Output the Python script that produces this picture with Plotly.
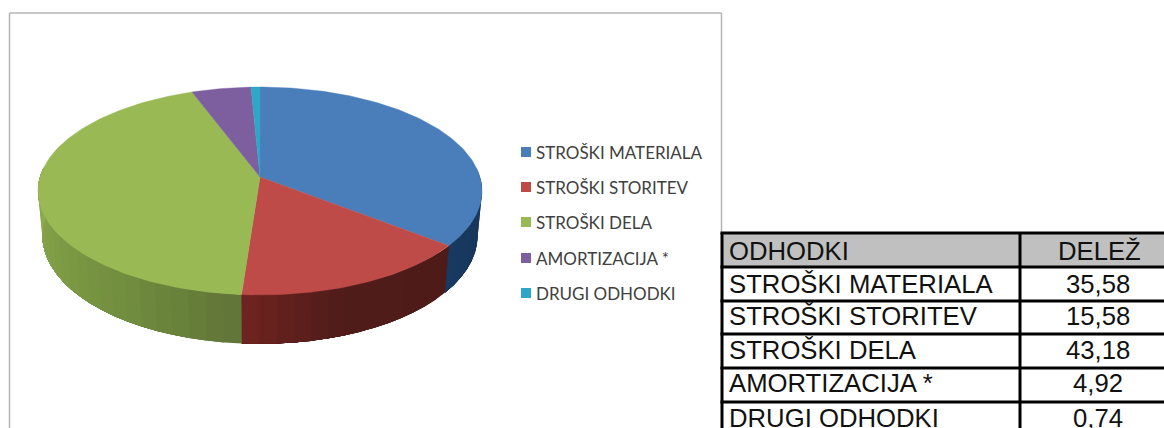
import math
import plotly.graph_objects as go

# ---- data ----
categories = ["STROŠKI MATERIALA", "STROŠKI STORITEV", "STROŠKI DELA", "AMORTIZACIJA *", "DRUGI ODHODKI"]
shares = [35.58, 15.58, 43.18, 4.92, 0.74]
table_header = ["ODHODKI", "DELEŽ"]
top_colors = ["#4a7ebb", "#be4b48", "#98b954", "#7d5fa0", "#2ea6c6"]

# side-wall shading, (screen fraction along the visible arc, rgb) per slice
wall_stops = {
    0: [(0.0, (22, 52, 90)), (1.0, (24, 58, 96))],
    1: [(0.0, (78, 27, 24)), (0.6, (80, 28, 25)), (1.0, (112, 36, 32))],
    2: [(0.0, (96, 116, 56)), (0.3, (112, 140, 62)), (0.7, (130, 160, 70)), (1.0, (142, 174, 82))],
}

# ---- geometry (pixel-based axes, perspective disc) ----
W, H = 1164, 428
CX, CY, A, B, K = 260.0, 177.0, 220.0, 102.1, 0.1346


def rim(theta):
    s, c = math.sin(theta), math.cos(theta)
    d = 1 + K * c
    return CX + A * s / d, CY - B * c / d


def rim_low(theta):
    u, v = rim(theta)
    return CX + 0.98 * (u - CX), v + 44 + 0.042 * (v - CY)


def lerp_color(stops, t):
    for (t0, c0), (t1, c1) in zip(stops, stops[1:]):
        if t <= t1:
            f = (t - t0) / (t1 - t0)
            return "rgb(%d,%d,%d)" % tuple(round(a + (b - a) * f) for a, b in zip(c0, c1))
    return "rgb(%d,%d,%d)" % stops[-1][1]


total = sum(shares)
edges = [0.0]
for v in shares:
    edges.append(edges[-1] + v / total * 2 * math.pi)

fig = go.Figure()

# side wall: each strip runs to the slice's far end and the next one paints over it, so no seams show
wall_start, wall_end = math.radians(85), math.radians(275)
for i in range(3):
    a0 = max(edges[i], wall_start)
    a1 = min(edges[i + 1], wall_end)
    n = max(2, int(math.degrees(a1 - a0) / 4))
    for j in range(n):
        ts = [a0 + (a1 - a0) * k / n for k in range(j, n + 1)]
        p = [rim(t) for t in ts] + [rim_low(t) for t in reversed(ts)]
        p.append(p[0])
        fig.add_trace(go.Scatter(
            x=[q[0] for q in p], y=[q[1] for q in p], mode="lines", fill="toself",
            fillcolor=lerp_color(wall_stops[i], (j + 0.5) / n), line=dict(width=0),
            hoverinfo="skip", showlegend=False,
        ))

# top face
for i, name in enumerate(categories):
    n = max(4, int(math.degrees(edges[i + 1] - edges[i])))
    pts = [(CX, CY)] + [rim(edges[i] + (edges[i + 1] - edges[i]) * j / n) for j in range(n + 1)] + [(CX, CY)]
    fig.add_trace(go.Scatter(
        x=[q[0] for q in pts], y=[q[1] for q in pts], mode="lines", fill="toself",
        fillcolor=top_colors[i], line=dict(color=top_colors[i], width=0.4),
        name=name, text=f"{shares[i]:.2f}".replace(".", ","), hoverinfo="name+text", showlegend=False,
    ))

shapes = []
annotations = []


def line(x0, y0, x1, y1, color, width):
    shapes.append(dict(type="line", x0=x0, y0=y0, x1=x1, y1=y1, line=dict(color=color, width=width)))


def label(x, y, text, anchor, size, color, family):
    annotations.append(dict(x=x, y=y, text=text, xanchor=anchor, yanchor="middle", showarrow=False,
                            font=dict(size=size, color=color, family=family), xref="x", yref="y"))


# chart frame
FRAME = "#b4b6b4"
line(9.5, 13, 9.5, H, FRAME, 1.5)
line(9.5, 13, 721.5, 13, FRAME, 1.5)
line(721.5, 13, 721.5, 233, FRAME, 1.5)

# legend
legend_y = [152, 187, 222, 258, 293]
for name, color, y in zip(categories, top_colors, legend_y):
    shapes.append(dict(type="rect", x0=521, x1=531, y0=y - 5, y1=y + 5, fillcolor=color, line=dict(width=0)))
    label(534, y, name, "left", 17, "#404040", "Lato")

# table
TX0, TX1, TX2 = 722, 1020, W
row_lines = [233, 267, 301, 334, 368, 402]
shapes.append(dict(type="rect", x0=TX0, x1=TX2, y0=row_lines[0], y1=row_lines[1], fillcolor="#c0c0c0", line=dict(width=0)))
for y in row_lines:
    line(TX0 - 1.5, y, TX2, y, "#000000", 3)
line(TX0, row_lines[0], TX0, H, "#000000", 3)
line(TX1, row_lines[0], TX1, H, "#000000", 3)

FONT = "Liberation Sans"
label(727, 251, table_header[0], "left", 25.7, "#111111", FONT)
label(1099, 251, table_header[1], "center", 25.7, "#111111", FONT)
row_y = [284, 316, 350, 383, 418]
for name, v, y in zip(categories, shares, row_y):
    label(727, y, name, "left", 25.7, "#111111", FONT)
    label(1098, y, f"{v:.2f}".replace(".", ","), "center", 25.7, "#111111", FONT)

fig.update_layout(
    width=W, height=H, margin=dict(l=0, r=0, t=0, b=0), paper_bgcolor="white", plot_bgcolor="white",
    xaxis=dict(range=[0, W], visible=False, fixedrange=True),
    yaxis=dict(range=[H, 0], visible=False, fixedrange=True),
    shapes=shapes, annotations=annotations, showlegend=False,
)
fig.write_html("out.html", config=dict(displayModeBar=False),
               post_script="document.body.style.margin='0';document.documentElement.style.overflow='hidden';")
